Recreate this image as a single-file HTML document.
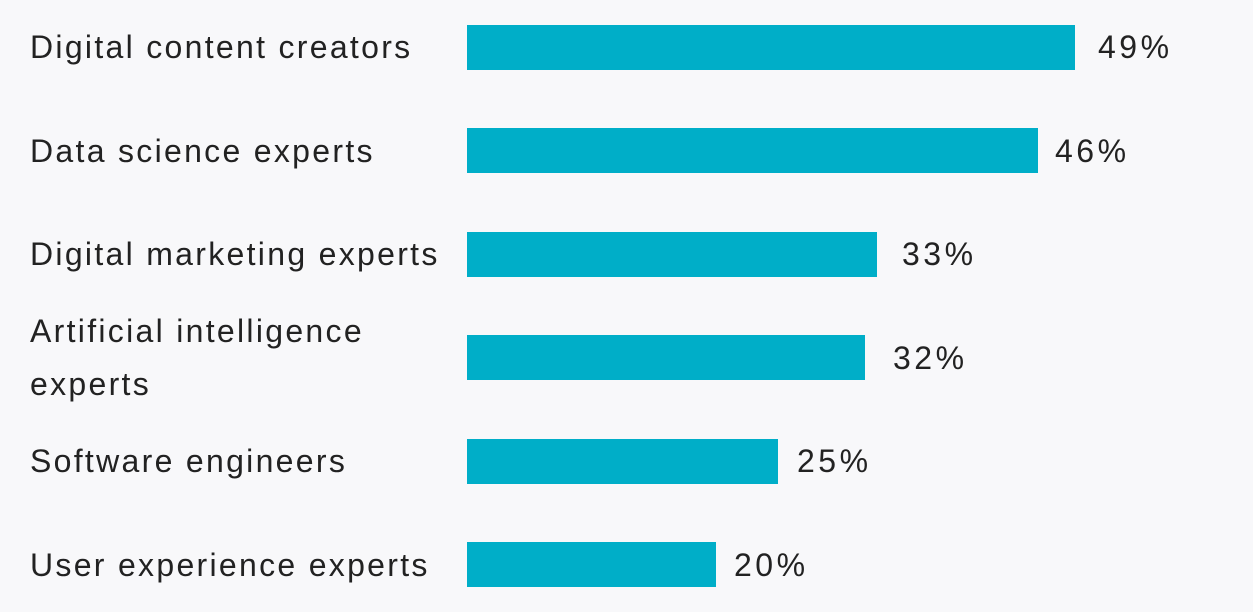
<!DOCTYPE html>
<html><head><meta charset="utf-8"><style>
body{margin:0;width:1253px;height:612px;background:#f8f8fa;position:relative;overflow:hidden;font-family:"Liberation Sans",sans-serif;color:#222;}
.l,.v{position:absolute;font-size:32px;line-height:36px;white-space:nowrap;letter-spacing:2.3px}
.v{letter-spacing:3.5px}
.b{position:absolute;left:467px;height:45px;background:#00aec8}
</style></head><body>
<div class="l" style="left:30px;top:29px">Digital content creators</div>
<div class="b" style="top:25px;width:608px"></div>
<div class="v" style="left:1098px;top:29px">49%</div>

<div class="l" style="left:30px;top:133px">Data science experts</div>
<div class="b" style="top:128px;width:571px"></div>
<div class="v" style="left:1055px;top:133px">46%</div>

<div class="l" style="left:30px;top:236px">Digital marketing experts</div>
<div class="b" style="top:232px;width:410px"></div>
<div class="v" style="left:902px;top:236px">33%</div>

<div class="l" style="left:30px;top:313px">Artificial intelligence</div>
<div class="l" style="left:30px;top:366px">experts</div>
<div class="b" style="top:335px;width:398px"></div>
<div class="v" style="left:893px;top:340px">32%</div>

<div class="l" style="left:30px;top:443px">Software engineers</div>
<div class="b" style="top:439px;width:311px"></div>
<div class="v" style="left:797px;top:443px">25%</div>

<div class="l" style="left:30px;top:547px">User experience experts</div>
<div class="b" style="top:542px;width:249px"></div>
<div class="v" style="left:734px;top:547px">20%</div>
</body></html>
